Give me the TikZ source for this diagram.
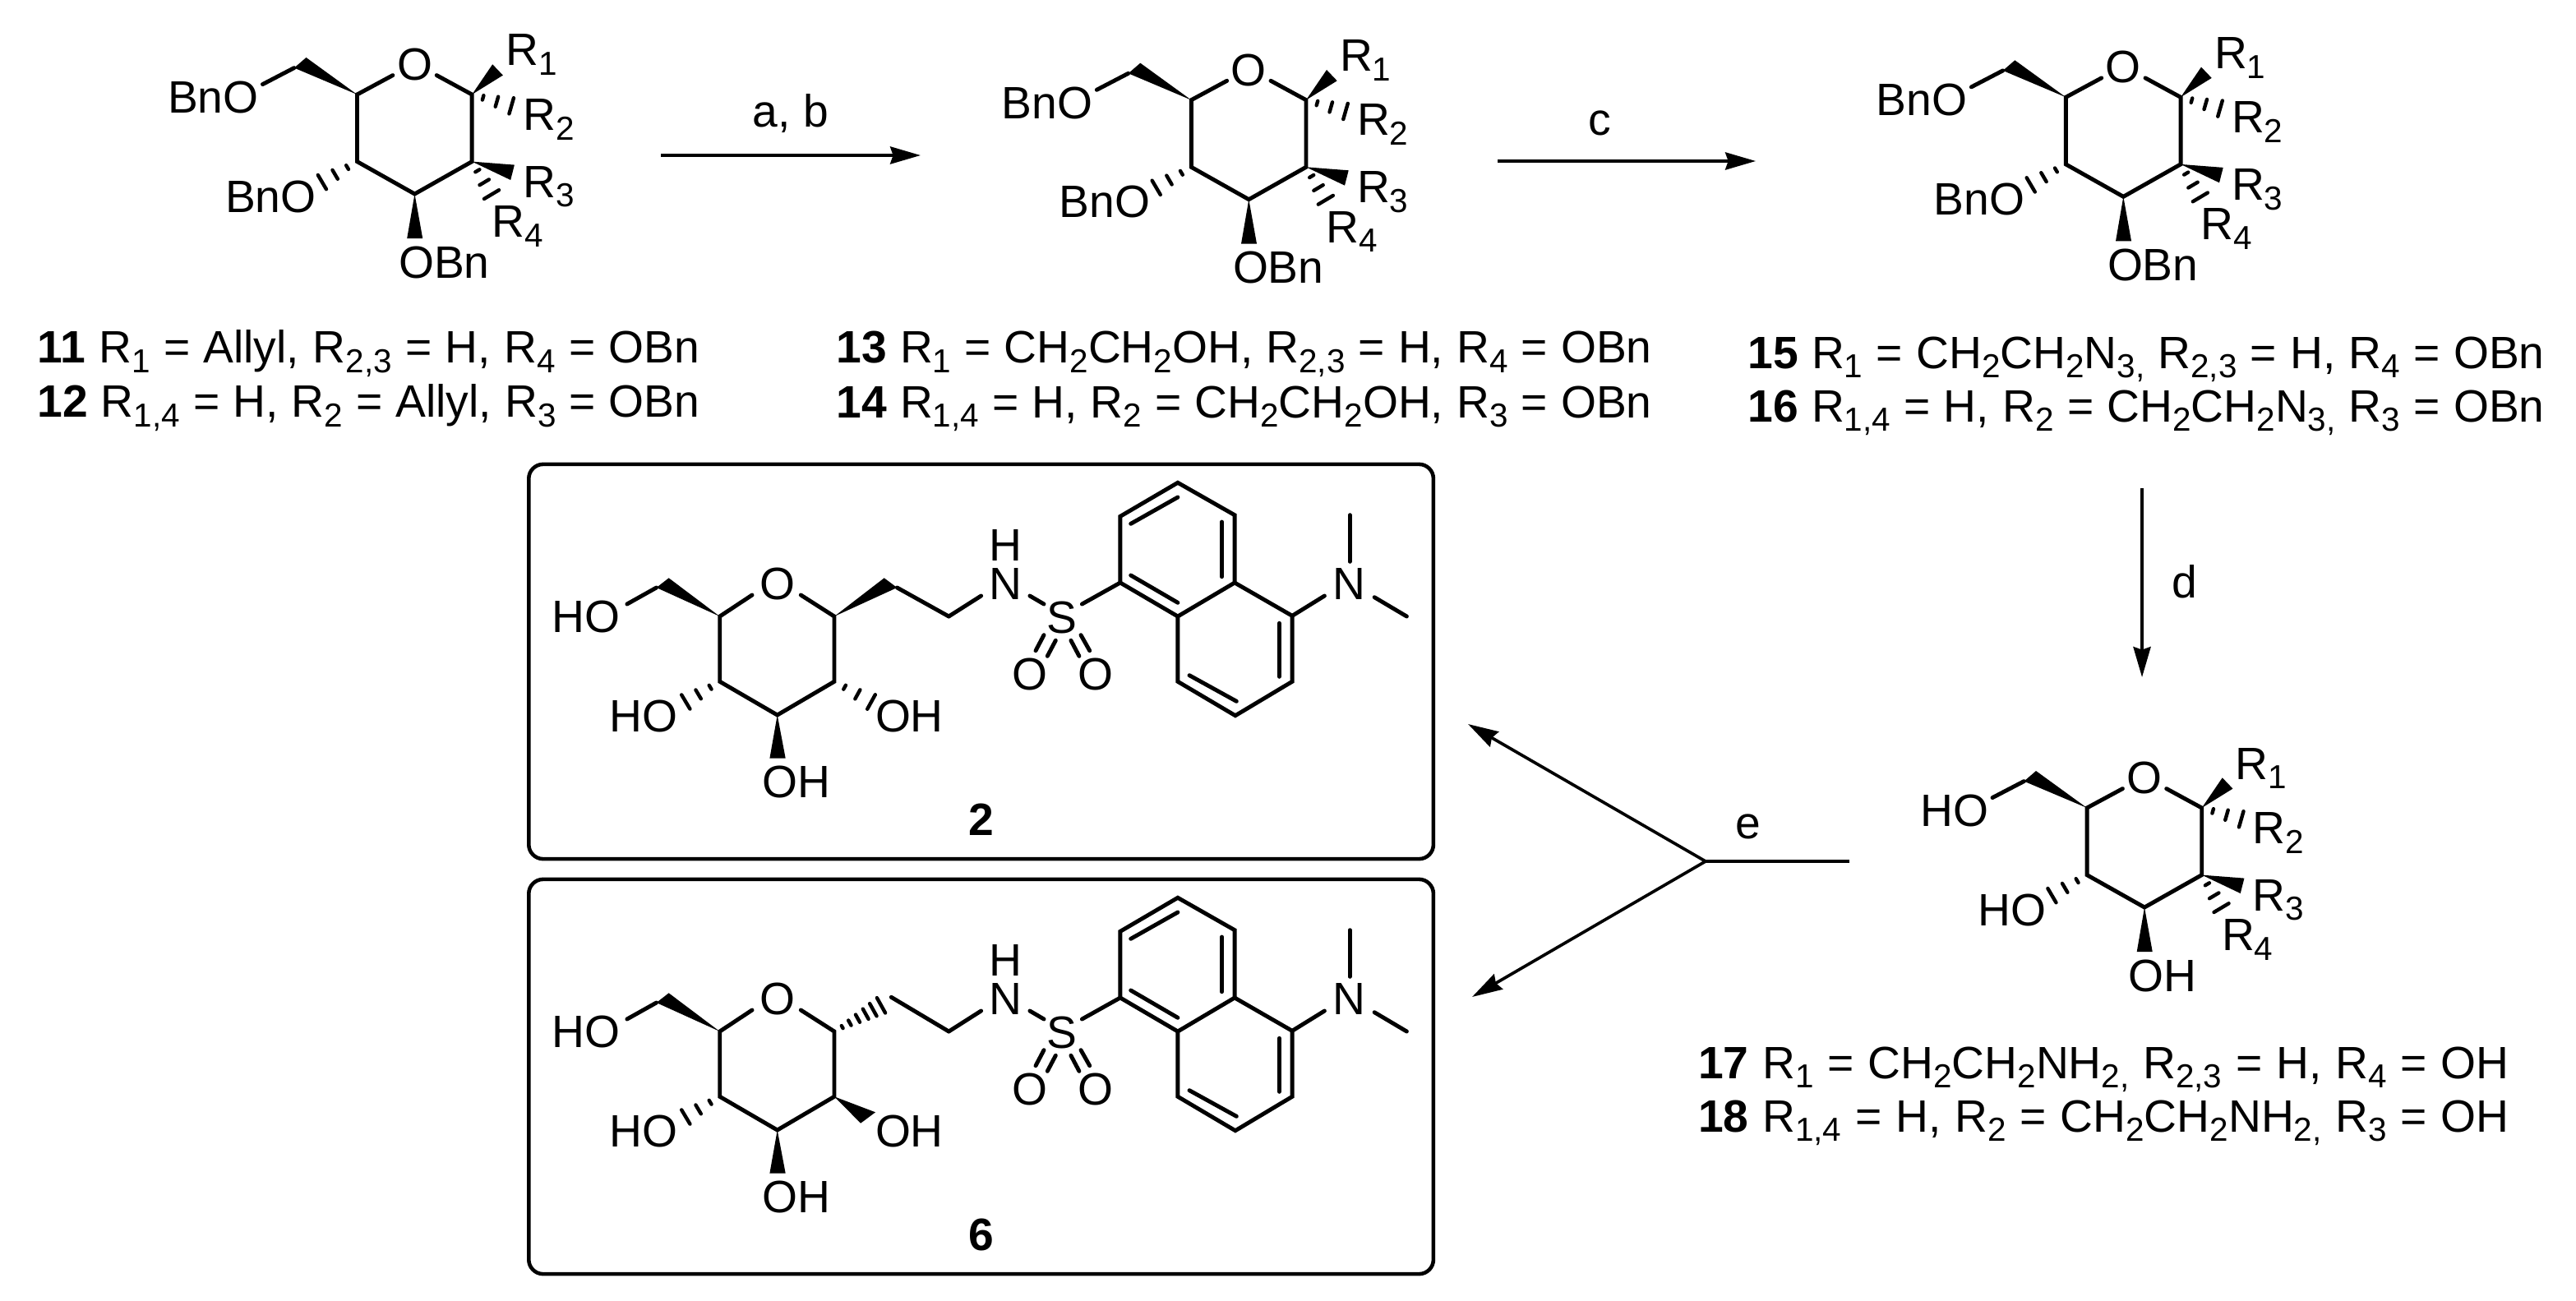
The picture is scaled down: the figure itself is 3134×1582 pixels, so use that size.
\documentclass[tikz,border=0pt]{standalone}
\usepackage{fontspec}
\setmainfont{Liberation Sans}
\usetikzlibrary{calc,arrows.meta}
\newcommand\chemf{\fontsize{15.7}{18}\selectfont}
\newcommand\capf{\fontsize{15.7}{18}\selectfont}
\newcommand\subf{\fontsize{11.5}{13}\selectfont}
\newcommand\sbs[1]{\raisebox{-3.4pt}{\subf #1}}
\tikzset{
  x=0.01cm,y=-0.01cm,
  bond/.style={line width=1.4pt,line cap=round,line join=miter},
  hashline/.style={line width=1.25pt,line cap=round},
  atom/.style={inner sep=0pt,outer sep=0pt,font=\chemf},
  caption/.style={atom,anchor=base west,font=\capf},
  rxn/.style={line width=1.05pt,-{Stealth[length=10.5pt,width=6pt,inset=1pt]}},
  plainrxn/.style={line width=1.05pt},
  panel/.style={draw,line width=1.3pt,rounded corners=5pt,minimum width=11cm,minimum height=4.8cm,inner sep=0pt},
}
% wedge: tip, two base corners
\newcommand\wedgebond[3]{\fill (#1) -- (#2) -- (#3) -- cycle;}
% hashed bond: from, to, full width of last dash (px), list of fractions
\newcommand\hashbond[4]{%
  \foreach \t [evaluate=\t as \w using \t*#3/2*0.28453] in {#4}{%
    \coordinate (hp) at ($(#1)!\t!(#2)$);
    \draw[hashline] ($(hp)!\w pt!90:(#1)$) -- ($(hp)!\w pt!-90:(#1)$);
  }}
% caption line: name, x left, x right, baseline y, text
\newcommand\capline[5]{%
  \pgfmathsetlengthmacro\capw{(#3-#2)*0.28453pt}%
  \node[caption] (#1) at (#2,#4) {\makebox[\capw][s]{#5}};}
% protected sugar with R groups
\newcommand\sugar[5]{%
\begin{scope}[shift={(#2,#3)},name prefix=#1-]
  \coordinate (C5) at (1449.3,121.7);
  \coordinate (C1) at (1589,121.7);
  \coordinate (C2) at (1589,203.3);
  \coordinate (C3) at (1519.3,242.7);
  \coordinate (C4) at (1449.3,203.3);
  \coordinate (Oa) at (1492.7,98.3);
  \coordinate (Ob) at (1546,98.3);
  \coordinate (Wa) at (1387.3,76.7);
  \coordinate (Wb) at (1372.7,89.3);
  \coordinate (Wc) at (1334.3,109.3);
  \coordinate (Ra) at (1614,85);
  \coordinate (Rb) at (1626.7,98.3);
  \coordinate (Rc) at (1640.7,207.3);
  \coordinate (Rd) at (1636,225.7);
  \coordinate (Ba) at (1510,296.7);
  \coordinate (Bb) at (1529,296.7);
  \coordinate (HR2) at (1637,135.5);
  \coordinate (HR4) at (1612.8,243.3);
  \coordinate (HL) at (1406.7,228.3);
  \node[atom] (O) at (1519.3,85) {O};
  \node[atom,anchor=east] (L6) at (1329.3,125) {#4};
  \node[atom,anchor=east] (L4) at (1399.3,245.7) {#4};
  \node[atom,anchor=west] (L3) at (1500,325.7) {#5};
  \node[atom,anchor=base west] (R1) at (1630,86.7) {R\sbs{1}};
  \node[atom,anchor=base west] (R2) at (1651,165) {R\sbs{2}};
  \node[atom,anchor=base west] (R3) at (1651,246.7) {R\sbs{3}};
  \node[atom,anchor=base west] (R4) at (1613.3,295) {R\sbs{4}};
  \draw[bond] (Oa) -- (C5) -- (C4) -- (C3) -- (C2) -- (C1) -- (Ob);
  \draw[bond] (Wb) -- (Wc);
  \wedgebond{C5}{Wa}{Wb}
  \wedgebond{C1}{Ra}{Rb}
  \wedgebond{C2}{Rc}{Rd}
  \wedgebond{C3}{Ba}{Bb}
  \hashbond{C1}{HR2}{20}{0.28,0.63,1}
  \hashbond{C2}{HR4}{21}{0.28,0.63,1}
  \hashbond{C4}{HL}{20}{0.28,0.63,1}
\end{scope}}
% dansyl conjugate, common atoms and bonds
\newcommand\conjugate[4]{%
\begin{scope}[shift={(0,#2)},name prefix=#1-]
  \coordinate (C5) at (875.7,750);
  \coordinate (C1) at (1015,750);
  \coordinate (C2) at (1015,829.3);
  \coordinate (C3) at (945.7,870);
  \coordinate (C4) at (875.7,829.3);
  \coordinate (Oa) at (915,724);
  \coordinate (Ob) at (974.3,724);
  \coordinate (Wa) at (813.6,703.3);
  \coordinate (Wb) at (798.6,715);
  \coordinate (Wc) at (762.9,735);
  \coordinate (Ch) at (1154.3,750);
  \coordinate (Nl) at (1193.6,725);
  \coordinate (Nr) at (1252.9,725);
  \coordinate (Sl) at (1270,735);
  \coordinate (Sr) at (1316.4,735);
  \coordinate (a) at (1362.9,709);
  \coordinate (b) at (1362.9,628.3);
  \coordinate (c) at (1432.9,587.3);
  \coordinate (d) at (1502.1,626.7);
  \coordinate (e) at (1502.1,709);
  \coordinate (f) at (1432.9,750);
  \coordinate (g) at (1432.9,829.3);
  \coordinate (h) at (1502.9,870.7);
  \coordinate (i) at (1572.1,829.3);
  \coordinate (j) at (1572.1,749.3);
  \coordinate (Ba) at (936.4,922.7);
  \coordinate (Bb) at (955.7,922.7);
  \coordinate (HC4) at (834.3,854);
  \node[atom] (O) at (945.7,710) {O};
  \node[atom,anchor=east] (HO6) at (754.3,750.7) {HO};
  \node[atom,anchor=east] (HO4) at (824.3,871.7) {HO};
  \node[atom,anchor=west] (OH2) at (1065,871.7) {OH};
  \node[atom,anchor=west] (OH3) at (927.1,951.7) {OH};
  \node[atom] (N) at (1223.6,710.7) {N};
  \node[atom] (H) at (1223.6,663.3) {H};
  \node[atom] (S) at (1292,751.7) {S};
  \node[atom] (Oc) at (1252.9,820) {O};
  \node[atom] (Od) at (1332.9,820) {O};
  \node[atom] (Nd) at (1641.4,710.7) {N};
  \node[atom,font=\chemf\bfseries] (num) at (1193.6,997) {#3};
  \draw[bond] (Oa) -- (C5) -- (C4) -- (C3) -- (C2) -- (C1) -- (Ob);
  \draw[bond] (Wb) -- (Wc);
  \wedgebond{C5}{Wa}{Wb}
  \wedgebond{C3}{Ba}{Bb}
  \hashbond{C4}{HC4}{20}{0.28,0.63,1}
  \draw[bond] (Ch) -- (Nl);
  \draw[bond] (Nr) -- (Sl);
  \draw[bond] (Sr) -- (a);
  \draw[bond] (f) -- (a) -- (b) -- (c) -- (d) -- (e) -- (f) -- (g) -- (h) -- (i) -- (j) -- (e);
  \draw[bond] (1375.7,700) -- (1432.9,733.3);
  \draw[bond] (1375.7,637.3) -- (1432.9,605);
  \draw[bond] (1486.4,635) -- (1486.4,701.7);
  \draw[bond] (1556.4,758.3) -- (1556.4,823.3);
  \draw[bond] (1447,821.7) -- (1504.3,853.3);
  \draw[bond] (j) -- (1611.4,725);
  \draw[bond] (1642.1,626.7) -- (1642.1,683.3);
  \draw[bond] (1672.1,726.7) -- (1711.4,750);
  \draw[bond] (1270,772.7) -- (1260,791.7);
  \draw[bond] (1284.3,779.3) -- (1274.3,798.3);
  \draw[bond] (1315,772.7) -- (1325.7,791.7);
  \draw[bond] (1302.9,779.3) -- (1312.9,798.3);
  #4
\end{scope}}
\begin{document}
\begin{tikzpicture}
\useasboundingbox (0,0) rectangle (3134,1582);
\fill[white] (0,0) rectangle (3134,1582);
% protected sugars
\sugar{sa}{-1014.8}{-6.7}{BnO}{OBn}
\sugar{sb}{0}{0}{BnO}{OBn}
\sugar{sc}{1064}{-3.4}{BnO}{OBn}
\sugar{sd}{1089.7}{861.3}{HO}{OH}
% captions
\capline{c11}{45.5}{851}{441.7}{\textbf{11} R\sbs{1} = Allyl, R\sbs{2,3} = H, R\sbs{4} = OBn}
\capline{c12}{45.5}{851}{507.7}{\textbf{12} R\sbs{1,4} = H, R\sbs{2} = Allyl, R\sbs{3} = OBn}
\capline{c13}{1017.5}{2009}{441.7}{\textbf{13} R\sbs{1} = CH\sbs{2}CH\sbs{2}OH, R\sbs{2,3} = H, R\sbs{4} = OBn}
\capline{c14}{1017.5}{2009}{508}{\textbf{14} R\sbs{1,4} = H, R\sbs{2} = CH\sbs{2}CH\sbs{2}OH, R\sbs{3} = OBn}
\capline{c15}{2126.4}{3095}{448}{\textbf{15} R\sbs{1} = CH\sbs{2}CH\sbs{2}N\sbs{3,} R\sbs{2,3} = H, R\sbs{4} = OBn}
\capline{c16}{2126.4}{3095}{513}{\textbf{16} R\sbs{1,4} = H, R\sbs{2} = CH\sbs{2}CH\sbs{2}N\sbs{3,} R\sbs{3} = OBn}
\capline{c17}{2066}{3052}{1312}{\textbf{17} R\sbs{1} = CH\sbs{2}CH\sbs{2}NH\sbs{2,} R\sbs{2,3} = H, R\sbs{4} = OH}
\capline{c18}{2066}{3052}{1377}{\textbf{18} R\sbs{1,4} = H, R\sbs{2} = CH\sbs{2}CH\sbs{2}NH\sbs{2,} R\sbs{3} = OH}
% panels
\node[panel] (box2) at (1193.6,805) {};
\node[panel] (box6) at (1193.6,1310) {};
% conjugates
\conjugate{ca}{0}{2}{%
  \coordinate (Ca) at (1075.7,703.3);
  \coordinate (Cb) at (1091.4,715);
  \coordinate (HC2) at (1060,854);
  \wedgebond{C1}{Ca}{Cb}
  \draw[bond] (Cb) -- (Ch);
  \hashbond{C2}{HC2}{20}{0.28,0.63,1}
}
\conjugate{cb}{505}{6}{%
  \coordinate (Hc) at (1072,718.3);
  \coordinate (Cb) at (1084.3,708.3);
  \coordinate (Wd) at (1047.1,861.7);
  \coordinate (We) at (1065,848.3);
  \hashbond{C1}{Hc}{21}{0.17,0.33,0.5,0.67,0.83,1}
  \draw[bond] (Cb) -- (Ch);
  \wedgebond{C2}{Wd}{We}
}
% reaction arrows
\coordinate (a1) at (804,189);
\coordinate (a2) at (1120,189);
\coordinate (b1) at (1822,196);
\coordinate (b2) at (2136,196);
\coordinate (d1) at (2606,594);
\coordinate (d2) at (2606,824);
\coordinate (fj) at (2075,1048);
\coordinate (fr) at (2250,1048);
\coordinate (ft) at (1786,881);
\coordinate (fb) at (1791,1213);
\draw[rxn] (a1) -- (a2);
\draw[rxn] (b1) -- (b2);
\draw[rxn] (d1) -- (d2);
\draw[plainrxn] (fr) -- (fj);
\draw[rxn] (fj) -- (ft);
\draw[rxn] (fj) -- (fb);
\node[atom,anchor=base] (la) at (962,155) {a, b};
\node[atom,anchor=base] (lc) at (1946,165) {c};
\node[atom,anchor=base] (ld) at (2658,727) {d};
\node[atom,anchor=base] (le) at (2127,1020) {e};
\end{tikzpicture}
\end{document}
